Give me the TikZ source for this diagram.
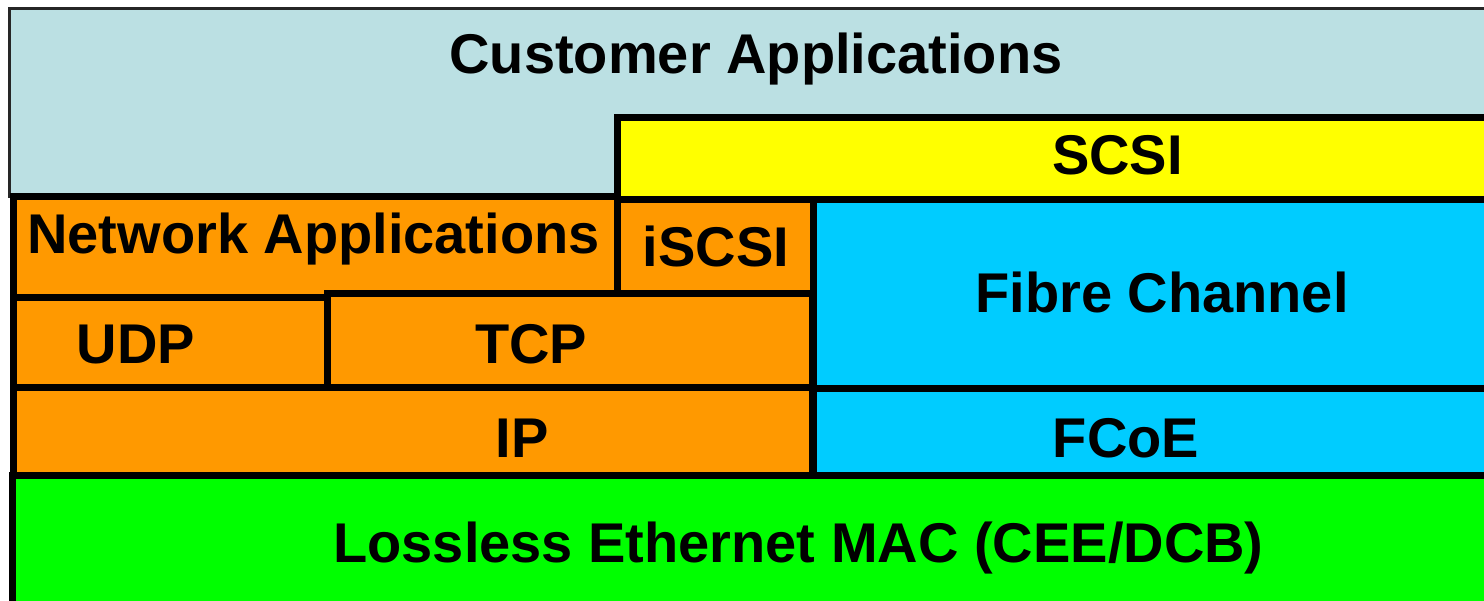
\documentclass[tikz,border=0pt]{standalone}
\usepackage{fontspec}
\setmainfont{Liberation Sans}
\definecolor{custblue}{HTML}{BBE0E3}
\definecolor{scsiyellow}{HTML}{FFFF00}
\definecolor{iporange}{HTML}{FF9900}
\definecolor{fccyan}{HTML}{00CCFF}
\definecolor{ethgreen}{HTML}{00FF00}
\tikzset{
  layer/.style={draw=black, line width=7pt, line join=miter},
  outerlayer/.style={draw=black!85, line width=2.6pt},
  lbl/.style={anchor=base, inner sep=0pt, font=\fontsize{56}{60}\selectfont\bfseries, text=black}
}
\begin{document}
\begin{tikzpicture}[x=1pt, y=-1pt]
\useasboundingbox (0,0) rectangle (1484,601);
\begin{scope}
\clip (0,0) rectangle (1484,601);
% application layer
\path[fill=custblue, outerlayer] (9.7,8.7) rectangle (1520,197);
% storage protocol stack
\path[fill=scsiyellow, layer] (617.3,117.3) rectangle (1520,200);
\path[fill=fccyan, layer] (813,200) rectangle (1520,389);
\path[fill=fccyan, layer] (813,389) rectangle (1520,476);
% IP stack
\path[fill=iporange, layer] (13,197) rectangle (617,297.5);
\path[fill=iporange, layer] (617,200) rectangle (813.5,296);
\path[fill=iporange, layer] (13,297.5) rectangle (327,388);
\path[fill=iporange, layer] (327,294) rectangle (812.5,388);
\path[fill=iporange, layer] (13,388) rectangle (812.5,476);
% link layer
\path[fill=ethgreen, layer] (12.5,476) rectangle (1520,640);
\end{scope}
% labels
\node[lbl] (cust) at (756,73.3) {Customer Applications};
\node[lbl] (scsi) at (1117.5,175) {SCSI};
\node[lbl] (netapp) at (313.5,254) {Network Applications};
\node[lbl] (iscsi) at (716,266.5) {iSCSI};
\node[lbl] (fc) at (1162,312.7) {Fibre Channel};
\node[lbl] (udp) at (136,363.3) {UDP};
\node[lbl] (tcp) at (531,363.3) {TCP};
\node[lbl] (ip) at (522,457) {IP};
\node[lbl] (fcoe) at (1126,457) {FCoE};
\node[lbl] (eth) at (798.5,562) {Lossless Ethernet MAC (CEE/DCB)};
\end{tikzpicture}
\end{document}
